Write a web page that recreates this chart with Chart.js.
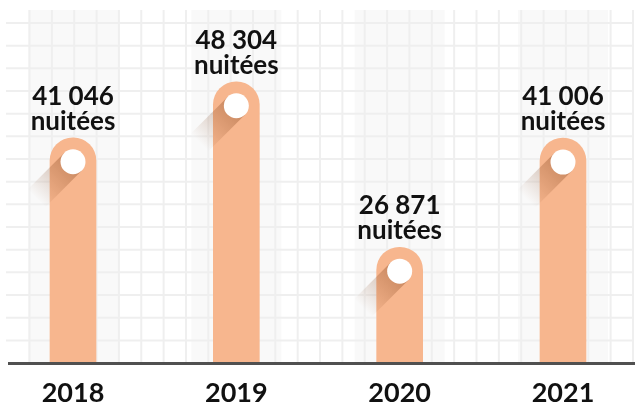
<!DOCTYPE html>
<html>
<head>
<meta charset="utf-8">
<script src="https://cdn.jsdelivr.net/npm/chart.js@4"></script>
<style>
  html, body { margin: 0; padding: 0; background: #fff; }
</style>
</head>
<body>
<canvas id="nuitees" width="635" height="409"></canvas>
<script>
// données du graphique
const annees = ['2018', '2019', '2020', '2021'];
const nuitees = [41046, 48304, 26871, 41006];
const unite = 'nuitées';

// 41046 -> "41 046"
function formatNombre(v) {
  return String(v).replace(/\B(?=(\d{3})+(?!\d))/g, ' ');
}

// fond quadrillé + bandes grises derrière les barres
const fondQuadrille = {
  id: 'fondQuadrille',
  beforeDraw(chart) {
    const ctx = chart.ctx;
    const area = chart.chartArea;
    ctx.save();
    ctx.fillStyle = '#ffffff';
    ctx.fillRect(0, 0, chart.width, chart.height);

    // bandes légèrement grises
    ctx.fillStyle = '#f9f9f9';
    chart.getDatasetMeta(0).data.forEach(bar => {
      ctx.fillRect(bar.x - 45, 10, 90, area.bottom - 10);
    });

    // lignes du quadrillage
    ctx.strokeStyle = '#efefef';
    ctx.lineWidth = 2;
    for (let i = 0; i < 28; i++) {
      const x = 29.5 + i * 22.35;
      ctx.beginPath();
      ctx.moveTo(x, 10);
      ctx.lineTo(x, area.bottom);
      ctx.stroke();
    }
    for (let j = 0; j < 15; j++) {
      const y = 23 + j * 22.67;
      ctx.beginPath();
      ctx.moveTo(6, y);
      ctx.lineTo(633, y);
      ctx.stroke();
    }
    ctx.restore();
  }
};

// pastilles blanches, ombres et étiquettes
const pastilles = {
  id: 'pastilles',
  afterDatasetsDraw(chart) {
    const ctx = chart.ctx;
    const area = chart.chartArea;
    const r = 12.5;
    ctx.save();

    // ligne de l'axe
    ctx.fillStyle = '#505050';
    ctx.fillRect(8, area.bottom, 627, 3);

    chart.getDatasetMeta(0).data.forEach((bar, i) => {
      const cx = bar.x;
      const cy = bar.y + 24;

      // ombre portée longue vers le bas à gauche
      ctx.save();
      ctx.translate(cx, cy);
      ctx.rotate(Math.PI * 3 / 4);
      const g = ctx.createLinearGradient(0, 0, 52, 0);
      g.addColorStop(0, 'rgba(120, 55, 15, 0.36)');
      g.addColorStop(1, 'rgba(120, 55, 15, 0)');
      ctx.fillStyle = g;
      ctx.fillRect(0, -r, 52, 2 * r);
      ctx.restore();

      // pastille
      ctx.beginPath();
      ctx.arc(cx, cy, r, 0, Math.PI * 2);
      ctx.fillStyle = '#ffffff';
      ctx.fill();

      // étiquette
      ctx.fillStyle = '#111111';
      ctx.font = 'bold 26px Lato';
      ctx.textAlign = 'center';
      ctx.textBaseline = 'alphabetic';
      ctx.fillText(formatNombre(nuitees[i]), cx, bar.y - 33);
      ctx.fillText(unite, cx, bar.y - 8);
    });
    ctx.restore();
  }
};

const ctx = document.getElementById('nuitees');
new Chart(ctx, {
  type: 'bar',
  data: {
    labels: annees,
    datasets: [{
      data: nuitees,
      base: 12000,
      backgroundColor: '#f7b68e',
      borderRadius: { topLeft: 23, topRight: 23 },
      borderSkipped: 'bottom',
      barThickness: 46,
      clip: false
    }]
  },
  options: {
    responsive: false,
    animation: false,
    layout: { padding: { left: 73, right: 72, top: 10, bottom: -16 } },
    plugins: { legend: { display: false }, tooltip: { enabled: false } },
    scales: {
      x: {
        offset: false,
        grid: { display: false, drawTicks: false },
        border: { display: false },
        ticks: {
          color: '#111111',
          padding: 18,
          font: { family: 'Lato', weight: 'bold', size: 27, lineHeight: 1 }
        }
      },
      y: {
        display: false,
        min: 12000,
        max: 57600
      }
    }
  },
  plugins: [fondQuadrille, pastilles]
});
</script>
</body>
</html>
